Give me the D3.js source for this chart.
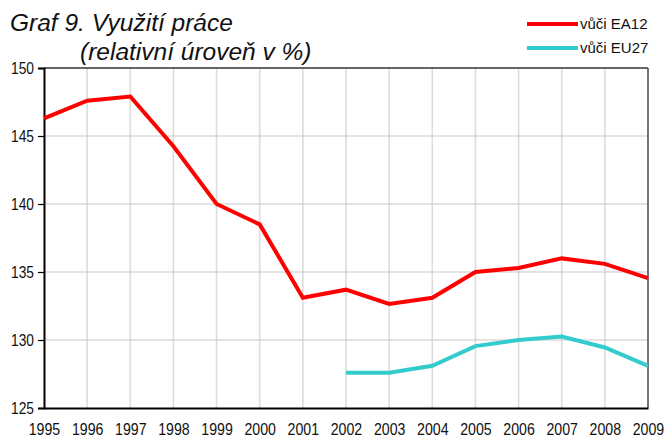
<!DOCTYPE html>
<html>
<head>
<meta charset="utf-8">
<script src="https://cdn.jsdelivr.net/npm/d3@7"></script>
<style>
  body { margin: 0; background: #fff; }
  text { font-family: "Liberation Sans", Arial, sans-serif; }
</style>
</head>
<body>
<script>
(function() {
    var w = 672,
        h = 437;

    // data
    var years = [1995, 1996, 1997, 1998, 1999, 2000, 2001, 2002, 2003, 2004, 2005, 2006, 2007, 2008, 2009];
    var ea12 = [146.3, 147.6, 147.9, 144.25, 140.0, 138.5, 133.1, 133.7, 132.65, 133.1, 135.0, 135.3, 136.0, 135.6, 134.55];
    var eu27 = [null, null, null, null, null, null, null, 127.6, 127.6, 128.1, 129.55, 130.0, 130.25, 129.45, 128.1];
    var yTicks = [125, 130, 135, 140, 145, 150];
    var seriesNames = ['vůči EA12', 'vůči EU27'];
    var seriesColors = ['#ff0000', '#33cccc'];

    var left = 44, right = 648, top = 68, bottom = 408;

    var svg = d3.select('body')
        .append('svg')
        .attr('width', w)
        .attr('height', h);

    var x = d3.scaleLinear().domain([1995, 2009]).range([left, right]);
    var y = d3.scaleLinear().domain([125, 150]).range([bottom, top]);

    // gridlines
    svg.append('g')
        .selectAll('line')
        .data(years.slice(1, -1))
        .enter().append('line')
        .attr('x1', function(d) { return x(d); })
        .attr('x2', function(d) { return x(d); })
        .attr('y1', top)
        .attr('y2', bottom)
        .attr('stroke', '#dcdcdc')
        .attr('stroke-width', 1.6);
    svg.append('g')
        .selectAll('line')
        .data(yTicks.slice(1, -1))
        .enter().append('line')
        .attr('x1', left)
        .attr('x2', right)
        .attr('y1', function(d) { return y(d); })
        .attr('y2', function(d) { return y(d); })
        .attr('stroke', '#c8c8c8')
        .attr('stroke-width', 1.2);

    // plot border top / right
    svg.append('line')
        .attr('x1', left).attr('x2', right)
        .attr('y1', top).attr('y2', top)
        .attr('stroke', '#333').attr('stroke-width', 1.5);
    svg.append('line')
        .attr('x1', right).attr('x2', right)
        .attr('y1', top).attr('y2', bottom)
        .attr('stroke', '#666').attr('stroke-width', 1.8);

    // y axis
    var yAxis = svg.append('g')
        .attr('transform', 'translate(' + left + ',0)')
        .call(d3.axisLeft(y).tickValues(yTicks).tickSize(6).tickPadding(4));
    yAxis.select('.domain').attr('stroke', '#000').attr('stroke-width', 2);
    yAxis.selectAll('.tick line').attr('stroke', '#000').attr('stroke-width', 1.2);
    yAxis.selectAll('text')
        .style('font-size', '16px')
        .attr('fill', '#111')
        .attr('textLength', 23)
        .attr('lengthAdjust', 'spacingAndGlyphs');

    // x axis
    var xAxis = svg.append('g')
        .attr('transform', 'translate(0,' + bottom + ')')
        .call(d3.axisBottom(x).tickValues(years).tickFormat(d3.format('d')).tickSize(0).tickPadding(15));
    xAxis.select('.domain').attr('stroke', '#000').attr('stroke-width', 1.8);
    xAxis.selectAll('text')
        .style('font-size', '16.5px')
        .attr('fill', '#111')
        .attr('textLength', 31.5)
        .attr('lengthAdjust', 'spacingAndGlyphs');

    // lines
    var line = d3.line()
        .defined(function(d) { return d[1] != null; })
        .x(function(d) { return x(d[0]); })
        .y(function(d) { return y(d[1]); });

    [ea12, eu27].forEach(function(vals, i) {
        svg.append('path')
            .datum(years.map(function(yr, j) { return [yr, vals[j]]; }))
            .attr('d', line)
            .attr('fill', 'none')
            .attr('stroke', seriesColors[i])
            .attr('stroke-width', 4)
            .attr('stroke-linejoin', 'miter');
    });

    // title
    svg.append('text')
        .attr('x', 10).attr('y', 31)
        .style('font-size', '24.5px')
        .style('font-style', 'italic')
        .attr('fill', '#111')
        .text('Graf 9. Využití práce');
    svg.append('text')
        .attr('x', 80).attr('y', 60)
        .style('font-size', '24.5px')
        .style('font-style', 'italic')
        .attr('fill', '#111')
        .text('(relativní úroveň v %)');

    // legend
    var legend = svg.append('g');
    seriesNames.forEach(function(name, i) {
        var ly = 24 + i * 24;
        legend.append('line')
            .attr('x1', 527).attr('x2', 578)
            .attr('y1', ly).attr('y2', ly)
            .attr('stroke', seriesColors[i])
            .attr('stroke-width', 4);
        legend.append('text')
            .attr('x', 580).attr('y', ly + 5)
            .style('font-size', '15px')
            .attr('fill', '#111')
            .text(name);
    });
})();
</script>
</body>
</html>
